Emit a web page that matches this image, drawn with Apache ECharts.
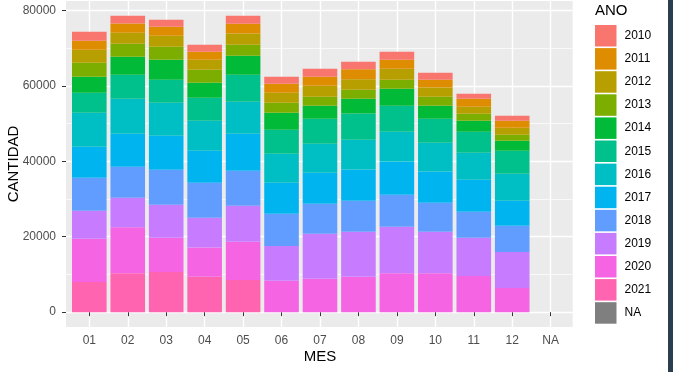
<!DOCTYPE html>
<html><head><meta charset="utf-8">
<script src="https://cdn.jsdelivr.net/npm/echarts@6/dist/echarts.min.js"></script>
<style>html,body{margin:0;padding:0;background:#fff}#c{width:673px;height:372px}</style>
</head><body><div id="c"></div>
<script>
const xLabels = ['01','02','03','04','05','06','07','08','09','10','11','12','NA'];
const yTicks = [0, 20000, 40000, 60000, 80000];
const yMinorTicks = [10000, 30000, 50000, 70000];
const legendOrder = ['2010','2011','2012','2013','2014','2015','2016','2017','2018','2019','2020','2021','NA'];

const v2021 = [8030, 10340, 10680, 9360, 8560, null, null, null, null, null, null, null];
const v2020 = [11430, 12190, 9020, 7760, 10080, 8300, 8830, 9360, 10340, 10340, 9620, 6440];
const v2019 = [7420, 7770, 8740, 7880, 9540, 9270, 11930, 11930, 12270, 10950, 10080, 9540];
const v2018 = [8750, 8220, 9280, 9270, 9280, 8490, 7950, 8210, 8480, 7680, 6890, 6900];
const v2017 = [8220, 8740, 9010, 8490, 9800, 8210, 8220, 8300, 8830, 8300, 8480, 6620];
const v2016 = [9010, 9280, 8750, 7950, 8490, 7690, 7680, 7870, 7870, 7610, 7160, 7160];
const v2015 = [5300, 6360, 6100, 6100, 7150, 6360, 6630, 6970, 6900, 6360, 5560, 6100];
const v2014 = [4240, 4780, 5300, 3970, 5040, 4510, 3450, 3900, 4500, 3450, 2920, 2650];
const v2013 = [3710, 3440, 3450, 3450, 2920, 2650, 2380, 2390, 2390, 2380, 1860, 1590];
const v2012 = [3450, 2920, 2910, 2650, 2990, 2650, 2920, 2830, 2910, 2470, 1850, 1850];
const v2011 = [2390, 2460, 2390, 2120, 2570, 2390, 2380, 2650, 2390, 2040, 2120, 1860];
const v2010 = [2380, 2040, 1850, 1860, 2120, 1850, 2120, 1940, 2120, 1850, 1330, 1320];
const vNA = [];

// bottom-to-top stacking order
const stackOrder = [
  ['2021', v2021, '#FF64B0'],
  ['2020', v2020, '#F564E3'],
  ['2019', v2019, '#C77CFF'],
  ['2018', v2018, '#619CFF'],
  ['2017', v2017, '#00B4F0'],
  ['2016', v2016, '#00BFC4'],
  ['2015', v2015, '#00C08B'],
  ['2014', v2014, '#00BA38'],
  ['2013', v2013, '#7CAE00'],
  ['2012', v2012, '#B79F00'],
  ['2011', v2011, '#DE8C00'],
  ['2010', v2010, '#F8766D'],
  ['NA', vNA, '#7F7F7F']
];

const totals = xLabels.map((_, i) => stackOrder.reduce((s, r) => s + (r[1][i] || 0), 0));
const dataMax = Math.max(...totals);
const yMin = -0.05 * dataMax, yMax = dataMax * 1.05;

const font = 'Liberation Sans, Arial, sans-serif';
const series = stackOrder.map(([name, vals, color]) => ({
  name, type: 'bar', stack: 'total', barWidth: '90%',
  xAxisIndex: 1, yAxisIndex: 2,
  itemStyle: { color },
  emphasis: { disabled: true },
  data: vals
}));

const gridBase = { top: 1, bottom: 45, outerBoundsMode: 'none', containLabel: false };
const chart = echarts.init(document.getElementById('c'), null, { renderer: 'canvas' });
chart.setOption({
  animation: false,
  backgroundColor: '#FFFFFF',
  title: { text: 'ANO', left: 595, top: 3, padding: 0,
    textStyle: { fontFamily: font, fontSize: 15, fontWeight: 'normal', color: '#000' } },
  legend: {
    data: legendOrder, orient: 'vertical', left: 595, top: 25, padding: 0,
    itemWidth: 21.5, itemHeight: 21.5, itemGap: 1.6, icon: 'rect',
    selectedMode: false,
    textStyle: { fontFamily: font, fontSize: 12, color: '#000', padding: [0, 0, 0, 3] }
  },
  grid: [
    Object.assign({ left: 66, right: 100.3, show: true, backgroundColor: '#EBEBEB', borderWidth: 0 }, gridBase),
    Object.assign({ left: 70.08, right: 103.1, show: false }, gridBase)
  ],
  xAxis: [{
    gridIndex: 0, type: 'value', min: 0, max: 1, show: false
  }, {
    gridIndex: 1, type: 'category', data: xLabels,
    name: 'MES', nameLocation: 'middle', nameGap: 22, nameMoveOverlap: false,
    nameTextStyle: { fontFamily: font, fontSize: 15, color: '#000' },
    axisLine: { show: false },
    axisTick: { show: true, length: 4, alignWithLabel: true, lineStyle: { color: '#333333', width: 1 } },
    axisLabel: { margin: 8, fontFamily: font, fontSize: 12, color: '#4D4D4D', interval: 0 },
    splitLine: { show: true, alignWithLabel: true, interval: 0, lineStyle: { color: '#FFFFFF', width: 1.4 } }
  }],
  yAxis: [{
    gridIndex: 0, type: 'value', min: yMin, max: yMax,
    name: 'CANTIDAD', nameLocation: 'middle', nameGap: 45, nameMoveOverlap: false,
    nameTextStyle: { fontFamily: font, fontSize: 15, color: '#000' },
    axisLine: { show: false },
    axisTick: { show: true, length: 4, customValues: yTicks, lineStyle: { color: '#333333', width: 1 } },
    axisLabel: { customValues: yTicks, margin: 10, formatter: v => String(v),
      fontFamily: font, fontSize: 12, color: '#4D4D4D' },
    splitLine: { show: true, lineStyle: { color: '#FFFFFF', width: 1.4 } }
  }, {
    gridIndex: 0, type: 'value', min: yMin, max: yMax, position: 'left',
    axisLine: { show: false },
    axisTick: { show: false, customValues: yMinorTicks },
    axisLabel: { show: false, customValues: yMinorTicks },
    splitLine: { show: true, lineStyle: { color: '#FFFFFF', width: 0.7 } }
  }, {
    gridIndex: 1, type: 'value', min: yMin, max: yMax, show: false,
    splitLine: { show: false }
  }],
  graphic: [{ type: 'rect', right: 0, top: 0, shape: { width: 5, height: 372 },
    style: { fill: '#2B3E50' }, z: 100 }],
  series
});
</script></body></html>
